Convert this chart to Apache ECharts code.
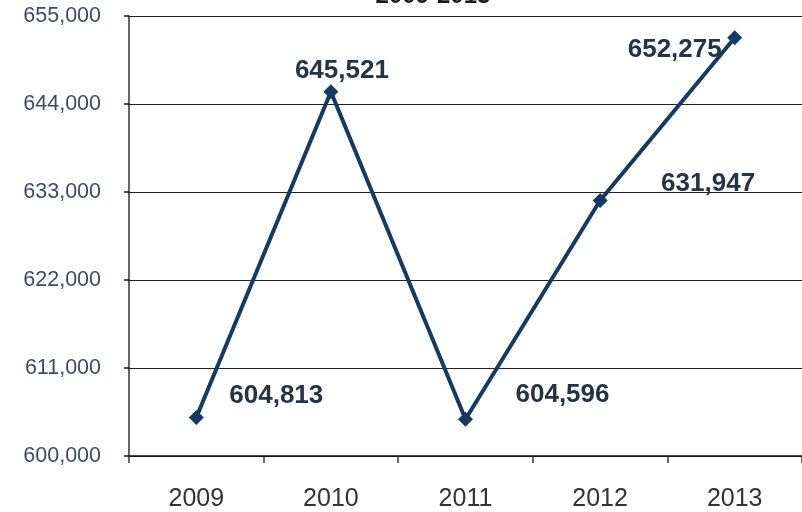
<!DOCTYPE html>
<html>
<head>
<meta charset="utf-8">
<script src="https://cdn.jsdelivr.net/npm/echarts@6/dist/echarts.min.js"></script>
<style>
  html, body { margin: 0; padding: 0; background: #fff; }
  #chart { width: 802px; height: 512px; }
</style>
</head>
<body>
<div id="chart"></div>
<script>
const years = ['2009', '2010', '2011', '2012', '2013'];
const values = [604813, 645521, 604596, 631947, 652275];
const yTicks = [600000, 611000, 622000, 633000, 644000, 655000];

// where each value label sits relative to its point
const labelOffsets = [[80, -22], [11, -21], [97, -24], [108, -17], [-60, 12]];

const chart = echarts.init(document.getElementById('chart'));

const fmt = (v) => v.toLocaleString('en-US');

chart.setOption({
  animation: false,
  title: {
    text: '2009-2013',
    left: 428,
    top: -21,
    textAlign: 'center',
    textStyle: { fontFamily: 'Liberation Sans', fontWeight: 'bold', fontSize: 24, color: '#1a1a1a' }
  },
  grid: { left: 129, top: 16, width: 678, height: 443 },
  xAxis: {
    type: 'category',
    data: years,
    boundaryGap: true,
    axisLine: { lineStyle: { color: '#111', width: 1.5 } },
    axisTick: { show: true, length: 7, lineStyle: { color: '#333', width: 1.5 } },
    axisLabel: { margin: 31, fontFamily: 'Liberation Sans', fontSize: 25, color: '#333' }
  },
  yAxis: {
    type: 'value',
    min: yTicks[0],
    max: yTicks[yTicks.length - 1],
    interval: yTicks[1] - yTicks[0],
    axisLine: { show: true, lineStyle: { color: '#333', width: 1.5 } },
    axisTick: { show: true, length: 5, lineStyle: { color: '#111', width: 1.5 } },
    axisLabel: { margin: 28, fontFamily: 'Liberation Sans', fontSize: 21.5, color: '#3d4d5f', formatter: fmt },
    splitLine: { lineStyle: { color: '#222', width: 1.2 } }
  },
  series: [{
    type: 'line',
    data: values.map((v, i) => ({
      value: v,
      label: { offset: labelOffsets[i] }
    })),
    symbol: 'diamond',
    symbolSize: 15,
    lineStyle: { color: '#153a63', width: 4 },
    itemStyle: { color: '#153a63' },
    label: {
      show: true,
      position: 'inside',
      formatter: (p) => fmt(p.value),
      fontFamily: 'Liberation Sans',
      fontWeight: 'bold',
      fontSize: 26,
      color: '#243447'
    }
  }]
});
</script>
</body>
</html>
